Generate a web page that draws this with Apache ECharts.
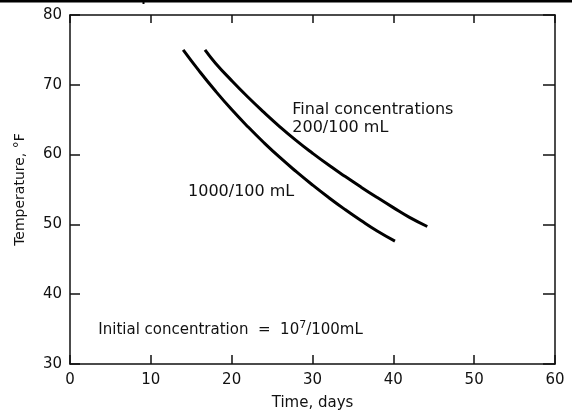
<!DOCTYPE html>
<html>
<head>
<meta charset="utf-8">
<script src="https://cdn.jsdelivr.net/npm/echarts@6/dist/echarts.min.js"></script>
<style>
  html, body { margin: 0; padding: 0; background: #fff; }
  #chart { width: 572px; height: 416px; }
</style>
</head>
<body>
<div id="chart"></div>
<script>
// days vs temperature (°F)
var lowDays = [14, 16, 18, 20, 22, 24, 26, 28, 30, 32, 34, 36, 38, 40.2]
var lowTemp = [75, 71.95, 69.1, 66.45, 64.0, 61.7, 59.55, 57.55, 55.65, 53.85, 52.15, 50.55, 49.05, 47.6]
var highDays = [16.7, 18, 20, 22, 24, 26, 28, 30, 32, 34, 36, 38, 40, 42, 44.2]
var highTemp = [75, 73.1, 70.6, 68.25, 66.05, 63.95, 62.0, 60.2, 58.5, 56.9, 55.35, 53.85, 52.4, 51.0, 49.7]
var xTicks = [0, 10, 20, 30, 40, 50, 60]
var yTicks = [30, 40, 50, 60, 70, 80]

// annotation anchors in data units (left edge, vertical middle)
var notes = [
  { at: [27.5, 66.4], text: 'Final concentrations' },
  { at: [27.5, 63.8], text: '200/100 mL' },
  { at: [14.6, 54.7], text: '1000/100 mL' }
]
var initialAt = [3.5, 34.9]

function pairs(xs, ys) {
  return xs.map(function (v, i) { return [v, ys[i]] })
}

var font = 'DejaVu Sans'
var chart = echarts.init(document.getElementById('chart'))

var lineStyle = { color: '#000', width: 3 }
var axisBase = {
  type: 'value',
  axisLine: { show: true, onZero: false, lineStyle: { color: '#111', width: 1.5 } },
  splitLine: { show: false }
}

var option = {
  animation: false,
  backgroundColor: '#fff',
  grid: { left: 70, right: 17, top: 15, bottom: 51 },
  xAxis: [
    Object.assign({}, axisBase, {
      min: xTicks[0], max: xTicks[xTicks.length - 1], interval: 10,
      position: 'bottom',
      name: 'Time, days', nameLocation: 'middle', nameGap: 32,
      nameTextStyle: { color: '#111', fontFamily: font, fontSize: 15 },
      axisTick: { show: true, inside: true, length: 9, lineStyle: { color: '#111', width: 1.5 } },
      axisLabel: { color: '#111', fontFamily: font, fontSize: 15, margin: 9 }
    }),
    Object.assign({}, axisBase, {
      min: xTicks[0], max: xTicks[xTicks.length - 1], interval: 10,
      position: 'top',
      axisTick: { show: true, inside: true, length: 8, lineStyle: { color: '#111', width: 1.5 } },
      axisLabel: { show: false }
    })
  ],
  yAxis: [
    Object.assign({}, axisBase, {
      min: yTicks[0], max: yTicks[yTicks.length - 1], interval: 10,
      position: 'left',
      name: 'Temperature, °F', nameLocation: 'middle', nameGap: 43,
      nameTextStyle: { color: '#111', fontFamily: font, fontSize: 14 },
      axisTick: { show: true, inside: true, length: 10, lineStyle: { color: '#111', width: 1.5 } },
      axisLabel: { color: '#111', fontFamily: font, fontSize: 15, margin: 8 }
    }),
    Object.assign({}, axisBase, {
      min: yTicks[0], max: yTicks[yTicks.length - 1], interval: 10,
      position: 'right',
      axisTick: { show: true, inside: true, length: 12, lineStyle: { color: '#111', width: 1.5 } },
      axisLabel: { show: false }
    })
  ],
  series: [
    {
      name: '1000/100 mL',
      type: 'line',
      smooth: true,
      showSymbol: false,
      lineStyle: lineStyle,
      data: pairs(lowDays, lowTemp)
    },
    {
      name: '200/100 mL',
      type: 'line',
      smooth: true,
      showSymbol: false,
      lineStyle: lineStyle,
      data: pairs(highDays, highTemp)
    }
  ]
}
chart.setOption(option)

// text labels + table border remnant at the top
var graphics = [
  { type: 'rect', shape: { x: 0, y: 0, width: 572, height: 2.5 }, style: { fill: '#000' } },
  { type: 'rect', shape: { x: 142.5, y: 0, width: 2, height: 4 }, style: { fill: '#000' } }
]
notes.forEach(function (n) {
  var p = chart.convertToPixel({ gridIndex: 0 }, n.at)
  graphics.push({
    type: 'text', x: p[0], y: p[1],
    style: { text: n.text, fill: '#111', fontFamily: font, fontSize: 16, verticalAlign: 'middle', align: 'left' }
  })
})
var ip = chart.convertToPixel({ gridIndex: 0 }, initialAt)
graphics.push({
  type: 'text', x: ip[0], y: ip[1],
  style: {
    text: '{a|Initial concentration  =  10}{s|7}{a|/100mL}',
    verticalAlign: 'middle', align: 'left',
    rich: {
      a: { fill: '#111', fontFamily: font, fontSize: 15, lineHeight: 20 },
      s: { fill: '#111', fontFamily: font, fontSize: 11, lineHeight: 12, verticalAlign: 'top' }
    }
  }
})
chart.setOption({ graphic: graphics })
</script>
</body>
</html>
